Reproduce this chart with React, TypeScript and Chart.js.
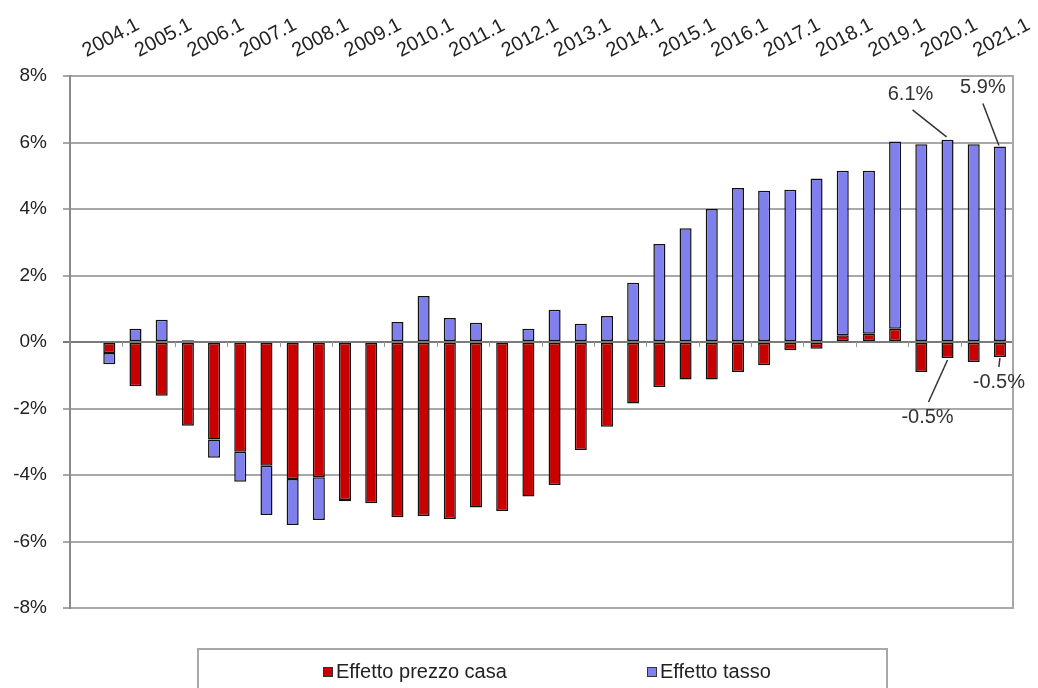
import React, { useEffect, useRef } from 'react';
import { Chart, registerables } from 'chart.js';

Chart.register(...registerables);

// ---- data ----
const categories: string[] = [
  '',
  '2004.1', '2004.2', '2005.1', '2005.2', '2006.1', '2006.2', '2007.1', '2007.2',
  '2008.1', '2008.2', '2009.1', '2009.2', '2010.1', '2010.2', '2011.1', '2011.2',
  '2012.1', '2012.2', '2013.1', '2013.2', '2014.1', '2014.2', '2015.1', '2015.2',
  '2016.1', '2016.2', '2017.1', '2017.2', '2018.1', '2018.2', '2019.1', '2019.2',
  '2020.1', '2020.2', '2021.1',
];

const effettoPrezzoCasa: (number | null)[] = [
  null,
  -0.33, -1.33, -1.62, -2.52, -2.93, -3.30, -3.72, -4.12,
  -4.07, -4.75, -4.85, -5.27, -5.23, -5.32, -4.98, -5.08,
  -4.65, -4.30, -3.25, -2.55, -1.85, -1.35, -1.13, -1.13,
  -0.90, -0.70, -0.25, -0.20, 0.20, 0.25, 0.40, -0.90,
  -0.48, -0.60, -0.45,
];

const effettoTasso: (number | null)[] = [
  null,
  -0.34, 0.40, 0.67, 0.05, -0.55, -0.90, -1.48, -1.38,
  -1.28, -0.04, 0.03, 0.60, 1.38, 0.72, 0.58, 0.03,
  0.40, 0.97, 0.55, 0.78, 1.78, 2.95, 3.42, 4.00,
  4.63, 4.55, 4.58, 4.92, 4.95, 4.90, 5.63, 5.95,
  6.08, 5.95, 5.88,
];

const seriesLabels = ['Effetto prezzo casa', 'Effetto tasso'];
const yMin = -8;
const yMax = 8;
const yStep = 2;

// data labels: dataset index, category index, text
const calloutDatasets = [1, 1, 0, 0];
const calloutIndexes = [33, 35, 33, 35];
const calloutTexts = ['6.1%', '5.9%', '-0.5%', '-0.5%'];

// ---- styling ----
const FONT = "'Liberation Sans', Arial, sans-serif";
const RED = '#c80000';
const BLUE = '#7f7fee';
const TEXT = '#222222';
const GRID = '#a8a8a8';

// offsets (px) for callouts relative to the bar end: [textDx, textDy, lineStartDx, lineStartDy, lineEndDx, lineEndDy]
const calloutGeom = [
  [-37, -45, -35, -30, -1, -3],
  [-17, -59, -17, -43, -1, -1],
  [-20, 60, -19, 44, 0, 2],
  [-1, 26, -1, 10, 0, 1],
];

const extrasPlugin = {
  id: 'extras',
  afterDatasetsDraw(chart: any) {
    const { ctx, chartArea, scales } = chart;
    const x = scales.x;
    const y = scales.y;
    const zeroY = y.getPixelForValue(0);
    ctx.save();
    // small tick marks on the zero line every two categories
    ctx.strokeStyle = '#999999';
    ctx.lineWidth = 1;
    for (let i = 1; i < categories.length - 1; i += 2) {
      const bx = (x.getPixelForValue(i) + x.getPixelForValue(i + 1)) / 2;
      ctx.beginPath();
      ctx.moveTo(Math.round(bx) + 0.5, zeroY);
      ctx.lineTo(Math.round(bx) + 0.5, zeroY + 5);
      ctx.stroke();
    }
    // right border of plot area
    ctx.strokeStyle = GRID;
    ctx.lineWidth = 2;
    ctx.beginPath();
    ctx.moveTo(chartArea.right, chartArea.top - 1);
    ctx.lineTo(chartArea.right, chartArea.bottom + 1);
    ctx.stroke();

    // callouts
    ctx.font = `20px ${FONT}`;
    ctx.fillStyle = '#333333';
    ctx.strokeStyle = '#333333';
    ctx.lineWidth = 1.5;
    ctx.textAlign = 'center';
    ctx.textBaseline = 'middle';
    calloutTexts.forEach((t, k) => {
      const meta = chart.getDatasetMeta(calloutDatasets[k]);
      const el = meta.data[calloutIndexes[k]];
      if (!el) return;
      const g = calloutGeom[k];
      ctx.beginPath();
      ctx.moveTo(el.x + g[2], el.y + g[3]);
      ctx.lineTo(el.x + g[4], el.y + g[5]);
      ctx.stroke();
      ctx.fillText(t, el.x + g[0], el.y + g[1]);
    });

    // legend
    const lx = 198, ly = 649, lw = 689;
    ctx.strokeStyle = GRID;
    ctx.lineWidth = 2;
    ctx.beginPath();
    ctx.moveTo(lx, chart.height + 2);
    ctx.lineTo(lx, ly);
    ctx.lineTo(lx + lw, ly);
    ctx.lineTo(lx + lw, chart.height + 2);
    ctx.stroke();
    const itemX = [323, 647];
    ctx.font = `20px ${FONT}`;
    ctx.textAlign = 'left';
    ctx.textBaseline = 'middle';
    chart.data.datasets.forEach((ds: any, i: number) => {
      const sx = itemX[i];
      ctx.fillStyle = ds.backgroundColor;
      ctx.fillRect(sx, 667, 10, 10);
      ctx.strokeStyle = '#333';
      ctx.lineWidth = 1;
      ctx.strokeRect(sx + 0.5, 667.5, 9, 9);
      ctx.fillStyle = TEXT;
      ctx.fillText(ds.label, sx + 13, 672);
    });
    ctx.restore();
  },
};

export default function App() {
  const canvasRef = useRef<HTMLCanvasElement | null>(null);

  useEffect(() => {
    document.body.style.margin = '0';
    const canvas = canvasRef.current;
    if (!canvas) return;
    const chart = new Chart(canvas, {
      type: 'bar',
      data: {
        labels: categories,
        datasets: [
          {
            label: seriesLabels[0],
            data: effettoPrezzoCasa,
            backgroundColor: RED,
            borderColor: '#111111',
            borderWidth: 1.5,
            borderSkipped: false,
            barPercentage: 0.46,
            categoryPercentage: 1,
          },
          {
            label: seriesLabels[1],
            data: effettoTasso,
            backgroundColor: BLUE,
            borderColor: '#111111',
            borderWidth: 1.5,
            borderSkipped: false,
            barPercentage: 0.46,
            categoryPercentage: 1,
          },
        ],
      },
      options: {
        responsive: false,
        animation: false,
        devicePixelRatio: 1,
        layout: { padding: { left: 0, right: 25, top: 0, bottom: 80 } },
        plugins: {
          legend: { display: false },
          tooltip: { enabled: false },
        },
        scales: {
          x: {
            position: 'top',
            stacked: true,
            grid: { display: false, drawTicks: false, tickLength: 0 },
            border: { display: true, color: GRID, width: 2 },
            ticks: {
              autoSkip: false,
              minRotation: 28,
              maxRotation: 28,
              padding: 13,
              labelOffset: -14,
              color: TEXT,
              font: { family: FONT, size: 20 },
              callback: (_v: any, idx: number) => {
                const l = categories[idx];
                return l.endsWith('.1') ? l : '';
              },
            },
            afterFit: (scale: any) => {
              scale.height = 76;
              scale.paddingLeft = 0;
              scale.paddingRight = 0;
            },
          },
          y: {
            stacked: true,
            min: yMin,
            max: yMax,
            grid: {
              color: (c: any) => (c.tick && c.tick.value === 0 ? '#7a7a7a' : GRID),
              lineWidth: 2,
              tickLength: 7,
            },
            border: { display: true, color: '#8a8a8a', width: 2 },
            ticks: {
              stepSize: yStep,
              padding: 16,
              color: TEXT,
              font: { family: FONT, size: 19 },
              callback: (v: any) => `${v}%`,
            },
            afterFit: (scale: any) => {
              scale.width = 70;
              scale.paddingTop = 0;
              scale.paddingBottom = 0;
            },
          },
        },
      },
      plugins: [extrasPlugin],
    });
    return () => chart.destroy();
  }, []);

  return (
    <div style={{ position: 'absolute', left: 0, top: 0, width: 1038, height: 688, background: '#fff' }}>
      <canvas ref={canvasRef} width={1038} height={688} style={{ display: 'block' }} />
    </div>
  );
}
